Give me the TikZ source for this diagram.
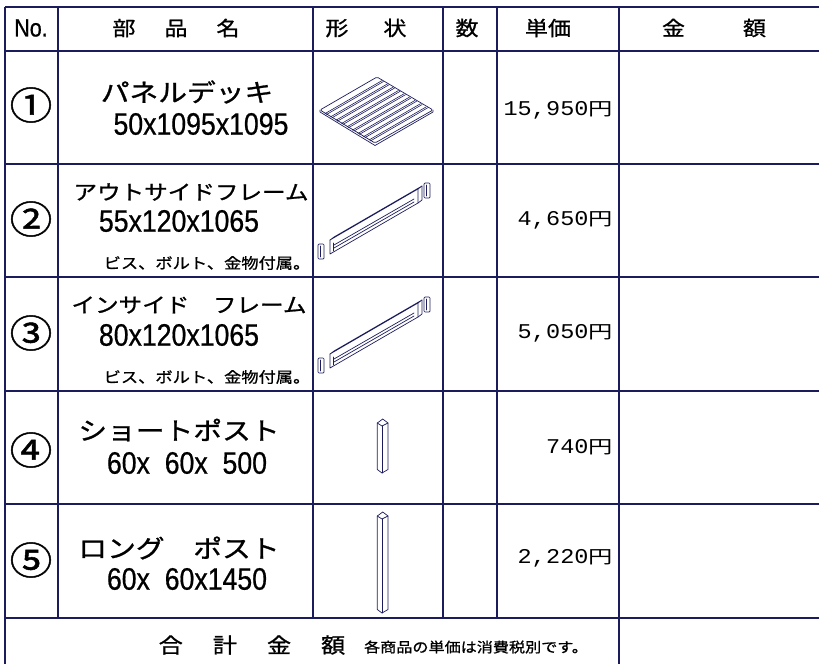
\documentclass[tikz,border=0pt]{standalone}
\usepackage{fontspec}
\newfontfamily\jp[FakeStretch=1.15,FakeBold=1]{Noto Sans CJK JP}
\newfontfamily\jpwide[FakeStretch=1.35]{Noto Sans CJK JP}
\newfontfamily\circfont[FakeStretch=1.12,FakeBold=1.2]{Noto Sans CJK JP}
\newfontfamily\dimfont[FakeStretch=0.86,FakeBold=0.6]{Liberation Sans}
\newfontfamily\pricefont[FakeStretch=1.12]{Liberation Mono}
\newcommand{\fsz}[1]{\fontsize{#1}{#1}\selectfont}
\newcommand{\pricefmt}{\pricefont\fsz{21}\spaceskip=0.3pt\relax}
\newcommand{\yen}{{\jpwide\fsz{18}円}}
\definecolor{navy}{RGB}{28,28,92}
\begin{document}
\begin{tikzpicture}[x=1pt, y=-1pt,
    grid/.style = {draw=navy, line width=1.3pt},
    part/.style = {draw=navy, line width=0.7pt, line join=round, line cap=round},
    hd/.style = {inner sep=0, font=\jp\fsz{20}},
    nm/.style = {inner sep=0, font=\jp\fsz{25}},
    nmsmall/.style = {inner sep=0, font=\jp\fsz{20.5}},
    dim/.style = {inner sep=0, font=\dimfont\fsz{31}},
    note/.style = {inner sep=0, font=\jp\fsz{15}},
    num/.style = {inner sep=0, font=\circfont\fsz{38}},
    price/.style = {inner sep=0, anchor=east, font=\pricefmt}]
    \useasboundingbox (0,0) rectangle (819,664);
    % table lines
    \foreach \y in {7,51,164,277,391,504,618}
        \draw[grid] (5,\y) -- (819,\y);
    \foreach \x in {58,313,443,497}
        \draw[grid] (\x,7) -- (\x,618);
    \foreach \x in {5,619}
        \draw[grid] (\x,7) -- (\x,664);
    % header
    \node[inner sep=0, font=\dimfont\fsz{25}] (hno) at (31,28) {No.};
    \node[hd] (hname) at (176,28) {部\hspace{29pt}品\hspace{29pt}名};
    \node[hd] (hshape) at (366,28) {形\hspace{35pt}状};
    \node[hd] (hqty) at (467,28) {数};
    \node[hd] (hunit) at (548,28) {単価};
    \node[hd] (hsum) at (714,28) {金\hspace{58pt}額};
    % rows
    \node[num] (n1) at (31,105) {①};
    \node[nm] (name1) at (187,92) {パネルデッキ};
    \node[dim] (size1) at (201,124) {50x1095x1095};
    \node[price] (price1) at (613,110) {15, 950\yen};
    \node[num] (n2) at (31,219) {②};
    \node[nmsmall] (name2) at (191,192) {アウトサイドフレーム};
    \node[dim] (size2) at (179,221) {55x120x1065};
    \node[note] (note2) at (207,263) {ビス、ボルト、金物付属。};
    \node[price] (price2) at (613,220) {4, 650\yen};
    \node[num] (n3) at (31,333) {③};
    \node[nmsmall] (name3) at (189,305) {インサイド　フレーム};
    \node[dim] (size3) at (179,335) {80x120x1065};
    \node[note] (note3) at (207,377) {ビス、ボルト、金物付属。};
    \node[price] (price3) at (613,333) {5, 050\yen};
    \node[num] (n4) at (31,450) {④};
    \node[nm] (name4) at (179,430) {ショートポスト};
    \node[dim] (size4) at (187,463) {60x\hphantom{0}60x\hphantom{0}500};
    \node[price] (price4) at (613,447) {740\yen};
    \node[num] (n5) at (31,560) {⑤};
    \node[nm] (name5) at (179,548) {ロング　ポスト};
    \node[dim] (size5) at (187,579) {60x\hphantom{0}60x1450};
    \node[price] (price5) at (613,558) {2, 220\yen};
    % total
    \node[inner sep=0, font=\jp\fsz{21}] (total) at (252,645) {合\hspace{30pt}計\hspace{30pt}金\hspace{30pt}額};
    \node[inner sep=0, font=\jp\fsz{14}] (taxnote) at (476,647) {各商品の単価は消費税別です。};
    % panel deck
    \draw[part, rounded corners=1.5pt] (320,110) -- (377,77) -- (433,110) -- (375,143) -- cycle;
    \draw[part] (320,110) -- (320,112) -- (375,145.5) -- (433,112) -- (433,110);
    \foreach \i in {1,...,9} {
        \draw[part, line width=0.6pt] ({319.5+5.5*\i},{110.3+3.3*\i}) -- ++(57,-33);
        \draw[part, line width=0.6pt] ({321+5.5*\i},{111.2+3.3*\i}) -- ++(57,-33);
    }
    % frames
    \foreach \dy in {0,114} {
        \begin{scope}[yshift=-\dy pt]
            \draw[part] (330,240) -- (418,189) -- (422,186) -- (334,237) -- cycle;
            \draw[part] (330,240) -- (330,254) -- (418,203) -- (418,189);
            \draw[part] (422,186) -- (422,200) -- (418,203);
            \draw[part] (334,245) -- (414,199);
            \draw[part] (334,248) -- (414,202);
            \draw[part] (333,243) -- (333,251);
            \draw[part, rounded corners=1pt] (318,244) rectangle (324,259);
            \draw[part] (320.5,246) -- (320.5,257);
            \draw[part, rounded corners=1pt] (424,183) rectangle (430,198);
            \draw[part] (426.5,185) -- (426.5,196);
        \end{scope}
    }
    % posts
    \foreach \t/\b in {419/473, 512/613} {
        \draw[part] (377.3,\t+4) -- (382.7,\t) -- (388,\t+4) -- (382,\t+7) -- cycle;
        \draw[part] (377.3,\t+4) -- (377.3,\b-3.5) -- (382,\b) -- (388,\b-3.5) -- (388,\t+4);
        \draw[part] (382,\t+7) -- (382,\b);
    }
\end{tikzpicture}
\end{document}
